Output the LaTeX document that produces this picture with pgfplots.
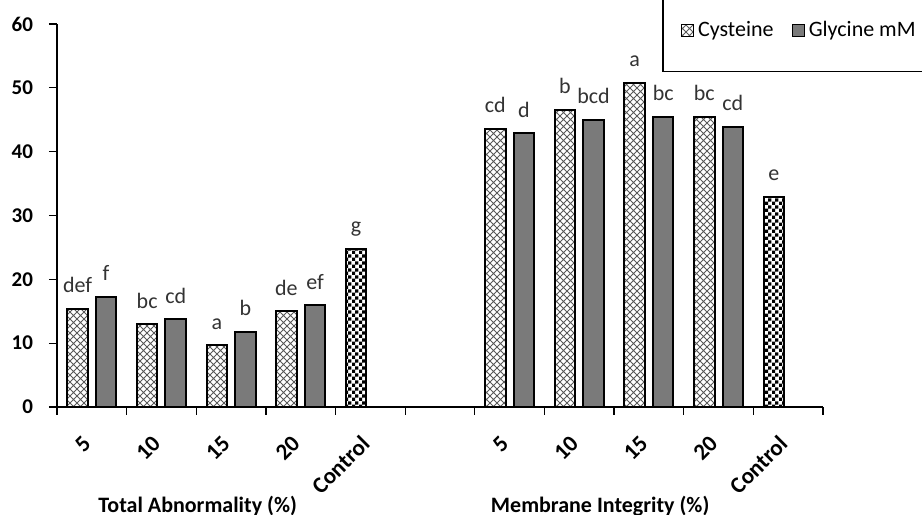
\documentclass[border=0pt]{standalone}
\usepackage{fontspec}
\setmainfont{Carlito}
\usepackage{pgfplots}
\pgfplotsset{compat=1.18}
\usetikzlibrary{patterns}

\pgfdeclarepatternformonly{diagcross}{\pgfqpoint{-0.5pt}{-0.5pt}}{\pgfqpoint{4pt}{4pt}}{\pgfqpoint{3.5pt}{3.5pt}}{%
  \pgfsetlinewidth{0.4pt}%
  \pgfpathmoveto{\pgfqpoint{0pt}{0pt}}\pgfpathlineto{\pgfqpoint{3.5pt}{3.5pt}}%
  \pgfpathmoveto{\pgfqpoint{0pt}{3.5pt}}\pgfpathlineto{\pgfqpoint{3.5pt}{0pt}}%
  \pgfusepath{stroke}}
\pgfdeclarepatternformonly{checker}{\pgfqpoint{0pt}{0pt}}{\pgfqpoint{3.6pt}{3.6pt}}{\pgfqpoint{3.6pt}{3.6pt}}{%
  \pgfpathrectangle{\pgfqpoint{0pt}{0pt}}{\pgfqpoint{1.8pt}{1.8pt}}%
  \pgfpathrectangle{\pgfqpoint{1.8pt}{1.8pt}}{\pgfqpoint{1.8pt}{1.8pt}}%
  \pgfusepath{fill}}

\begin{document}
\begin{tikzpicture}
\begin{axis}[
  scale only axis, width=383pt, height=191.5pt,
  xmin=-0.5, xmax=10.5, ymin=0, ymax=60,
  axis lines*=left,
  axis line style={-, line width=0.6pt},
  xtick={-0.5,0.5,1.5,2.5,3.5,4.5,5.5,6.5,7.5,8.5,9.5,10.5},
  x tick label as interval,
  xticklabels={5,10,15,20,Control,{},5,10,15,20,Control},
  ytick={0,10,...,60},
  tick align=outside, major tick length=4pt,
  tick style={black, line width=0.6pt},
  /pgf/number format/assume math mode=true,
  yticklabel style={font=\fontsize{10.5}{12}\selectfont\bfseries, xshift=-4.5pt},
  xticklabel style={font=\fontsize{11.5}{13}\selectfont\bfseries, yshift=-10pt, rotate=45, anchor=east},
  clip=false,
  nodes near coords, point meta=explicit symbolic,
  every node near coord/.append style={anchor=base, yshift=8pt,
     font=\fontsize{11}{13}\selectfont, text=black!80},
  legend columns=2,
  legend style={draw=none, fill=none, at={(rel axis cs:0.814,0.984)}, anchor=west,
     font=\fontsize{11}{13}\selectfont, inner sep=0pt,
     /tikz/every even column/.append style={column sep=7pt}},
  legend image code/.code={\draw[#1, line width=0.6pt] (0pt,-3pt) rectangle (6pt,3pt);},
]
\addplot[ybar, bar width=0.295, bar shift=-0.205, draw=black, line width=1pt,
   pattern=diagcross, pattern color=black!65,
   every node near coord/.append style={xshift=-7.14pt}]
 coordinates {(0,15.4) [def] (1,13.0) [bc] (2,9.7) [a] (3,15.0) [de]
              (6,43.6) [cd] (7,46.6) [b] (8,50.8) [a] (9,45.5) [bc]};
\addlegendentry{Cysteine}
\addplot[ybar, bar width=0.295, bar shift=0.205, draw=black, line width=1pt,
   fill=black!52,
   every node near coord/.append style={xshift=7.14pt}]
 coordinates {(0,17.3) [f] (1,13.75) [cd] (2,11.8) [b] (3,15.9) [ef]
              (6,42.9) [d] (7,45.0) [bcd] (8,45.5) [bc] (9,43.9) [cd]};
\addlegendentry{Glycine mM}
\addplot[ybar, bar width=0.295, bar shift=-0.205, draw=black, line width=1pt,
   pattern=checker, pattern color=black, forget plot,
   every node near coord/.append style={xshift=-7.14pt}]
 coordinates {(4,24.8) [g] (10,32.9) [e]};

\draw[line width=0.6pt] (rel axis cs:0.791,1.3) |- (rel axis cs:1.4,0.875);
\node[font=\fontsize{11}{13}\selectfont\bfseries, yshift=-49.5pt] at (axis cs:1.52,0) {Total Abnormality (\%)};
\node[font=\fontsize{11}{13}\selectfont\bfseries, yshift=-49.5pt] at (axis cs:7.30,0) {Membrane Integrity (\%)};
\coordinate (BL) at (rel axis cs:0,0);
\coordinate (TR) at (rel axis cs:1,1);
\end{axis}
\pgfresetboundingbox
\path[use as bounding box] ([shift={(-28.5pt,-54pt)}]BL) rectangle ([shift={(49.5pt,12pt)}]TR);
\end{tikzpicture}
\end{document}
